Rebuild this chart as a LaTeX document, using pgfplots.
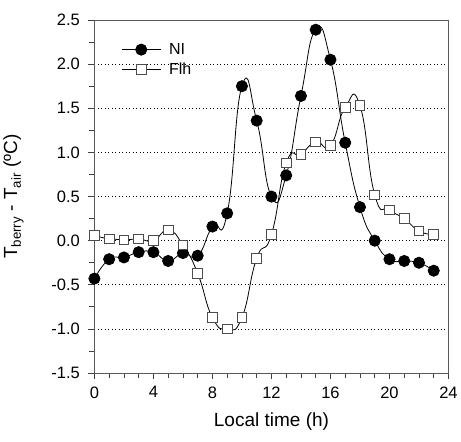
\documentclass[border=0pt]{standalone}
\usepackage{fontspec}
\setmainfont{Liberation Sans}
\usepackage{pgfplots}
\pgfplotsset{compat=1.18}
\begin{document}
\begin{tikzpicture}
\begin{axis}[
    scale only axis,
    width=354pt, height=353pt,
    xmin=0, xmax=24, ymin=-1.5, ymax=2.5,
    xtick={0,4,...,24}, minor x tick num=3,
    ytick={-1.5,-1,...,2.5}, minor y tick num=1,
    xtick pos=left, ytick pos=left,
    tick align=outside,
    major tick length=6pt, minor tick length=5pt,
    every tick/.style={black!75, line width=0.8pt},
    axis line style={black!65, line width=0.9pt},
    ymajorgrids,
    major grid style={black, line width=0.9pt, dash pattern=on 0.9pt off 2.6pt},
    /pgf/number format/assume math mode=true,
    /pgf/number format/fixed, /pgf/number format/fixed zerofill,
    /pgf/number format/precision=1,
    xticklabel={\pgfmathprintnumber[precision=0]{\tick}},
    tick label style={font=\fontsize{16.5}{18}\selectfont},
    yticklabel style={xshift=-5pt},
    xticklabel style={yshift=-4pt},
    xlabel={Local time (h)},
    ylabel={T\textsubscript{berry} - T\textsubscript{air} (ºC)},
    label style={font=\fontsize{19}{21}\selectfont},
    xlabel style={yshift=-8pt},
    ylabel style={yshift=21pt},
    legend style={at={(0.076,0.94)}, anchor=north west, draw=none, fill=none,
        inner sep=0pt, font=\fontsize{16}{18}\selectfont, row sep=3pt, column sep=6pt},
    legend cell align=left,
    legend image code/.code={\draw[mark repeat=2,mark phase=2] plot coordinates {(0cm,0cm) (0.68cm,0cm) (1.36cm,0cm)};},
]
\addplot[black, line width=0.8pt, smooth, tension=0.9, mark=*, mark size=5.6pt,
    mark options={solid, fill=black}] coordinates {
    (0,-0.43) (1,-0.21) (2,-0.19) (3,-0.13) (4,-0.13) (5,-0.23) (6,-0.14) (7,-0.17)
    (8,0.16) (9,0.31) (10,1.75) (11,1.36) (12,0.50) (13,0.74) (14,1.64) (15,2.39)
    (16,2.05) (17,1.11) (18,0.38) (19,0.00) (20,-0.21) (21,-0.23) (22,-0.25) (23,-0.34)
};
\addplot[black, line width=0.8pt, smooth, tension=0.9, mark=square*, mark size=4.8pt,
    mark options={solid, fill=white, draw=black!70, line width=0.9pt}] coordinates {
    (0,0.06) (1,0.02) (2,0.01) (3,0.02) (4,0.00) (5,0.12) (6,-0.05) (7,-0.37)
    (8,-0.87) (9,-1.00) (10,-0.87) (11,-0.20) (12,0.07) (13,0.88) (14,0.98) (15,1.12)
    (16,1.08) (17,1.51) (18,1.53) (19,0.52) (20,0.35) (21,0.25) (22,0.11) (23,0.07)
};
\legend{NI, Flh}
\end{axis}
\path ([yshift=20pt]current axis.north);
\path ([yshift=-68pt]current axis.south);
\end{tikzpicture}
\end{document}
